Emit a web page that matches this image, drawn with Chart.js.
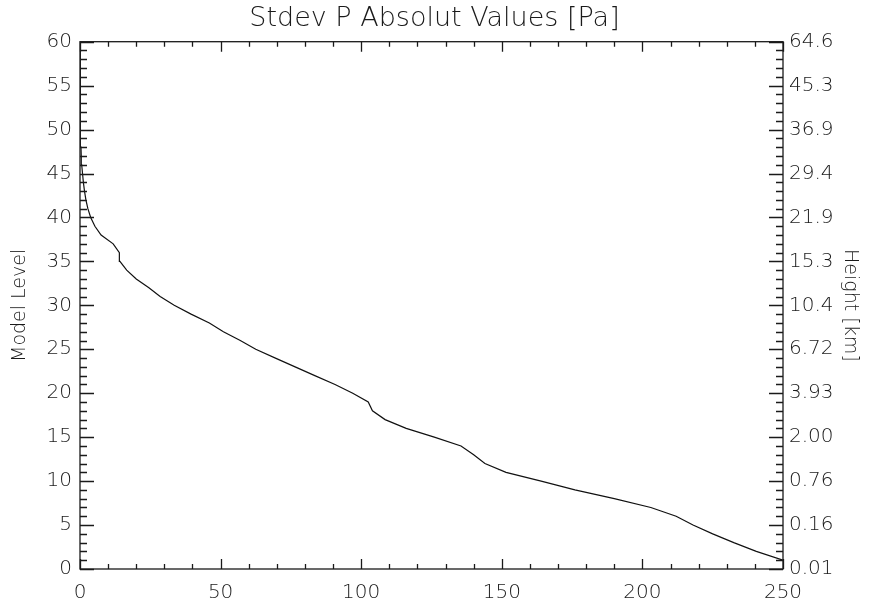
<!DOCTYPE html>
<html>
<head>
<meta charset="utf-8">
<script src="https://cdn.jsdelivr.net/npm/chart.js@4.4.1/dist/chart.umd.min.js"></script>
<style>
  html, body { margin: 0; padding: 0; background: #fff; }
  #wrap { width: 869px; height: 609px; }
</style>
</head>
<body>
<div id="wrap"><canvas id="stdevChart"></canvas></div>
<script>
// model levels (y) and stdev of pressure at each level (x), in Pa
const levels = [1, 2, 3, 4, 5, 6, 7, 8, 9, 10,
                11, 12, 13, 14, 15, 16, 17, 18, 19, 20,
                21, 22, 23, 24, 25, 26, 27, 28, 29, 30,
                31, 32, 33, 34, 35, 36, 37, 38, 39, 40,
                41, 42, 43, 44, 45, 46, 47, 48, 49, 50,
                51, 52, 53, 54, 55, 56, 57, 58, 59, 60];
const stdevP = [250, 240.5, 232.5, 225, 218, 212, 203, 190, 176, 164,
                151.5, 144, 140, 135.5, 126, 116, 108.5, 104, 102.5, 97,
                90.7, 83.5, 76.5, 69.5, 62.5, 57, 51, 46, 39.5, 33.5,
                28.5, 24.5, 20, 16.6, 14.2, 14, 11.8, 7.5, 5.3, 3.8,
                2.8, 2.1, 1.6, 1.2, 0.9, 0.6, 0.45, 0.35, 0.28, 0.22,
                0.18, 0.15, 0.12, 0.1, 0.08, 0.07, 0.06, 0.05, 0.04, 0.03];

// right hand axis: height in km at every 5th model level
const heightLabels = ["0.01", "0.16", "0.76", "2.00", "3.93", "6.72", "10.4",
                      "15.3", "21.9", "29.4", "36.9", "45.3", "64.6"];

const FONT = "'DejaVu Sans', sans-serif";
const INK = "#1a1a1a";

// IDL style frame with inward ticks on all four sides
const frameTicks = {
  id: "frameTicks",
  afterDraw(chart) {
    const ctx = chart.ctx;
    const a = chart.chartArea;
    const xs = chart.scales.x;
    const ys = chart.scales.y;
    ctx.save();
    ctx.strokeStyle = INK;
    ctx.lineWidth = 1.3;
    ctx.strokeRect(a.left, a.top, a.right - a.left, a.bottom - a.top);
    ctx.beginPath();
    for (let v = 0; v <= 250; v += 10) {
      const px = Math.round(xs.getPixelForValue(v)) + 0.5;
      const len = v % 50 === 0 ? 10 : 5;
      ctx.moveTo(px, a.bottom); ctx.lineTo(px, a.bottom - len);
      ctx.moveTo(px, a.top); ctx.lineTo(px, a.top + len);
    }
    for (let v = 0; v <= 60; v += 1) {
      const py = Math.round(ys.getPixelForValue(v)) + 0.5;
      const len = v % 5 === 0 ? 14 : 7;
      ctx.moveTo(a.left, py); ctx.lineTo(a.left + len, py);
      ctx.moveTo(a.right, py); ctx.lineTo(a.right - len, py);
    }
    ctx.stroke();
    ctx.restore();
  }
};

const points = levels.map((lev, i) => ({ x: stdevP[i], y: lev }));

new Chart(document.getElementById("stdevChart"), {
  type: "scatter",
  data: {
    datasets: [{
      data: points,
      showLine: true,
      borderColor: "#111",
      borderWidth: 1.2,
      pointRadius: 0,
      tension: 0
    }]
  },
  options: {
    responsive: true,
    maintainAspectRatio: false,
    animation: false,
    layout: { padding: 0 },
    plugins: {
      legend: { display: false },
      tooltip: { enabled: false },
      title: {
        display: true,
        text: "Stdev P Absolut Values [Pa]",
        color: INK,
        font: { family: FONT, size: 27, weight: 200, lineHeight: 1.1 },
        padding: { top: 4, bottom: 8 }
      }
    },
    scales: {
      x: {
        type: "linear",
        min: 0,
        max: 250,
        afterFit: s => { s.height = 40; },
        grid: { display: false, drawTicks: false },
        border: { display: false },
        ticks: {
          stepSize: 50,
          padding: 12,
          color: INK,
          maxRotation: 0,
          font: { family: FONT, size: 20, weight: 200 }
        }
      },
      y: {
        type: "linear",
        position: "left",
        min: 0,
        max: 60,
        afterFit: s => { s.width = 80; },
        grid: { display: false, drawTicks: false },
        border: { display: false },
        title: {
          display: true,
          text: "Model Level",
          color: INK,
          padding: { top: 9, bottom: 4 },
          font: { family: FONT, size: 19, weight: 200 }
        },
        ticks: {
          stepSize: 5,
          padding: 8,
          color: INK,
          font: { family: FONT, size: 20, weight: 200 }
        }
      },
      y2: {
        type: "linear",
        position: "right",
        min: 0,
        max: 60,
        afterFit: s => { s.width = 86; },
        grid: { display: false, drawTicks: false },
        border: { display: false },
        title: {
          display: true,
          text: "Height [km]",
          color: INK,
          padding: { top: 8, bottom: 0 },
          font: { family: FONT, size: 19, weight: 200 }
        },
        ticks: {
          stepSize: 5,
          padding: 6,
          color: INK,
          font: { family: FONT, size: 20, weight: 200 },
          callback: v => heightLabels[v / 5]
        }
      }
    }
  },
  plugins: [frameTicks]
});
</script>
</body>
</html>
